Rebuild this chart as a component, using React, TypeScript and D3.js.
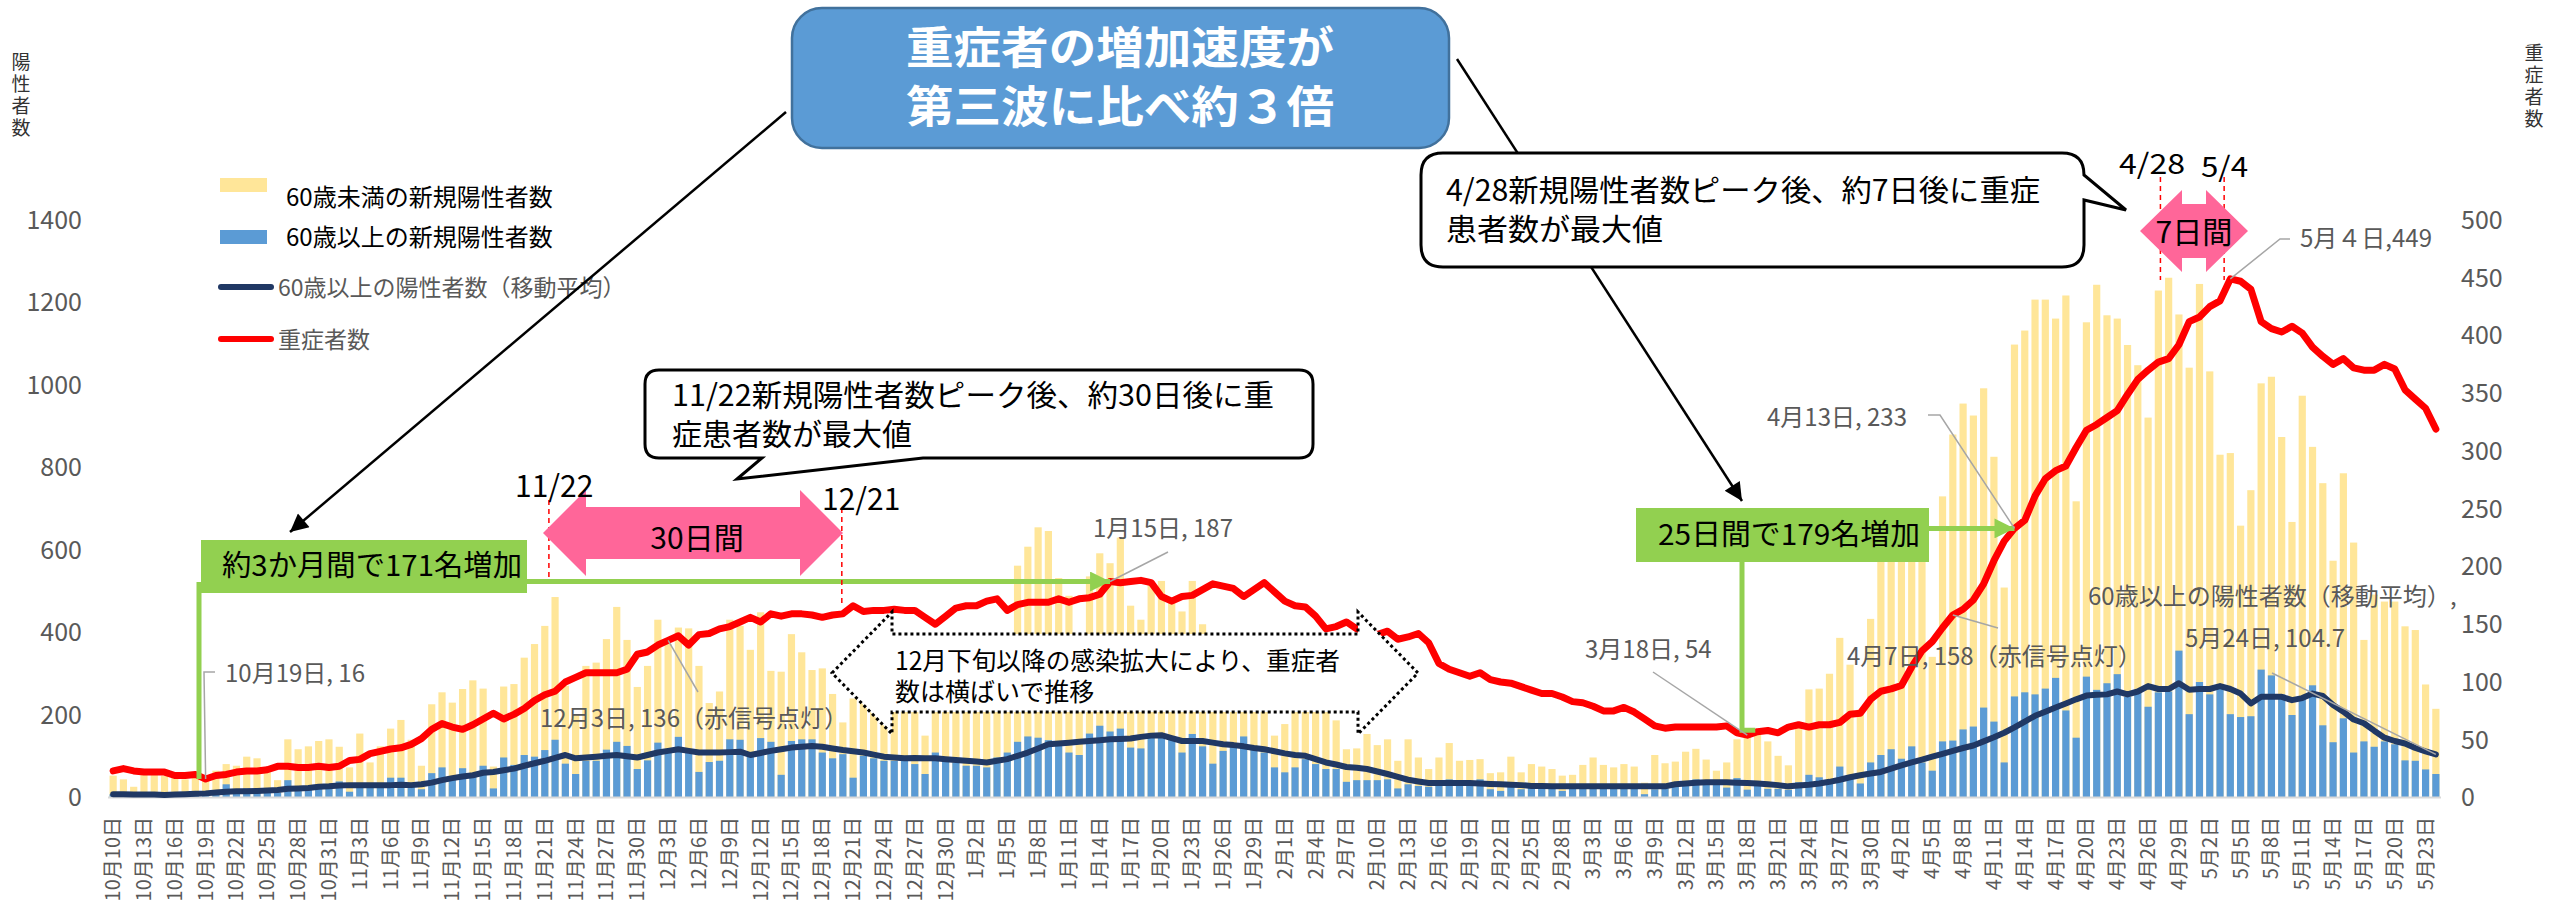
import React from 'react';
import * as d3 from 'd3';

// 2020/10/10 - 2021/5/24, one value per day
const startDate = new Date(2020, 9, 10);

// yellow bar top = all new positives (under-60 stacked on over-60)
const allAges = [
  53, 44, 26, 69, 61, 53, 48, 44, 57, 40,
  65, 81, 77, 99, 95, 61, 42, 141, 117, 124,
  137, 141, 123, 73, 155, 85, 124, 167, 188, 140,
  77, 226, 255, 230, 263, 284, 264, 75, 269, 275,
  339, 372, 416, 486, 271, 200, 319, 327, 384, 462,
  382, 268, 319, 431, 372, 412, 410, 319, 229, 257,
  431, 416, 358, 449, 307, 305, 396, 352, 309, 313,
  251, 182, 240, 300, 294, 270, 300, 299, 215, 150,
  260, 310, 254, 262, 250, 264, 258, 382, 562, 608,
  655, 646, 532, 489, 330, 536, 592, 568, 630, 465,
  431, 525, 525, 481, 451, 525, 420, 350, 320, 300,
  350, 280, 230, 150, 178, 240, 230, 240, 220, 187,
  117, 119, 154, 127, 141, 89, 141, 97, 69, 97,
  132, 89, 91, 93, 59, 61, 99, 61, 81, 75,
  69, 53, 55, 79, 97, 79, 73, 81, 75, 36,
  103, 83, 87, 111, 118, 92, 65, 85, 141, 162,
  152, 136, 101, 78, 182, 262, 264, 300, 387, 322,
  213, 433, 599, 616, 666, 666, 593, 341, 730, 880,
  955, 926, 992, 826, 509, 1098, 1132, 1207, 1207, 1161,
  1217, 718, 1152, 1243, 1169, 1161, 1097, 1048, 921, 1229,
  1260, 1171, 1042, 1245, 1033, 831, 835, 659, 745, 1004,
  1020, 874, 668, 974, 850, 762, 574, 786, 618, 382,
  492, 475, 475, 415, 406, 274, 215,
];

const over60 = [
  8, 10, 6, 12, 10, 9, 10, 10, 14, 10,
  16, 32, 19, 22, 16, 14, 12, 42, 22, 24,
  28, 30, 39, 14, 28, 26, 27, 48, 48, 28,
  20, 59, 73, 44, 71, 52, 77, 22, 97, 79,
  103, 99, 115, 140, 82, 57, 89, 89, 116, 135,
  125, 69, 90, 133, 117, 147, 109, 62, 86, 89,
  141, 140, 101, 144, 135, 55, 137, 141, 141, 109,
  95, 105, 48, 101, 95, 89, 89, 101, 81, 57,
  109, 89, 85, 77, 77, 73, 97, 109, 135, 148,
  145, 139, 133, 109, 103, 155, 174, 160, 167, 121,
  119, 150, 150, 145, 109, 154, 124, 82, 113, 125,
  148, 125, 109, 73, 61, 73, 93, 81, 69, 69,
  38, 42, 42, 42, 44, 22, 32, 28, 26, 28,
  44, 28, 28, 44, 20, 16, 36, 20, 24, 24,
  22, 16, 24, 24, 24, 24, 22, 24, 22, 8,
  20, 22, 28, 37, 44, 41, 37, 24, 47, 19,
  29, 21, 21, 19, 37, 55, 49, 41, 75, 51,
  34, 85, 103, 117, 94, 124, 85, 65, 136, 138,
  165, 172, 218, 184, 85, 245, 255, 250, 264, 290,
  211, 145, 293, 261, 277, 299, 244, 257, 220, 255,
  257, 356, 202, 280, 250, 266, 202, 195, 197, 310,
  296, 250, 200, 239, 272, 175, 134, 192, 109, 136,
  123, 136, 129, 90, 89, 68, 57,
];

const over60Avg = [
  8, 8, 7, 7, 7, 6, 7, 8, 9, 10,
  12, 14, 15, 15, 16, 17, 18, 21, 22, 23,
  26, 27, 29, 30, 30, 30, 30, 30, 31, 30,
  32, 36, 42, 47, 51, 54, 60, 62, 66, 70,
  77, 83, 89, 96, 103, 95, 97, 99, 101, 103,
  100, 97, 103, 109, 113, 117, 113, 109, 109, 109,
  110, 111, 103, 108, 113, 117, 121, 123, 125, 123,
  119, 115, 112, 109, 104, 99, 97, 95, 96, 95,
  95, 93, 91, 89, 87, 85, 89, 93, 101, 109,
  119, 129, 131, 133, 135, 137, 139, 141, 142, 143,
  147, 150, 151, 144, 137, 137, 137, 133, 129, 127,
  124, 120, 117, 112, 107, 103, 101, 93, 85, 80,
  74, 72, 69, 63, 57, 50, 43, 39, 35, 35,
  35, 35, 35, 34, 33, 32, 31, 30, 28, 28,
  27, 27, 27, 27, 27, 27, 27, 27, 27, 27,
  27, 27, 32, 34, 36, 37, 37, 37, 36, 35,
  34, 32, 30, 27, 29, 31, 34, 38, 43, 49,
  54, 58, 62, 70, 78, 85, 92, 99, 106, 113,
  120, 126, 136, 146, 157, 170, 184, 198, 208, 218,
  228, 238, 247, 249, 250, 257, 250, 257, 270, 263,
  263, 277, 261, 263, 263, 270, 263, 252, 228, 244,
  244, 244, 236, 241, 252, 246, 224, 208, 189, 180,
  162, 145, 137, 131, 120, 112, 104.7,
];

const severe = [
  23, 25, 23, 22, 22, 22, 19, 19, 20, 16,
  19, 20, 22, 23, 23, 24, 27, 27, 26, 26,
  27, 26, 27, 32, 33, 38, 40, 42, 43, 46,
  51, 59, 64, 61, 59, 63, 68, 73, 68, 72,
  77, 84, 89, 92, 100, 104, 108, 108, 108, 108,
  111, 124, 126, 132, 136, 140, 132, 141, 142, 146,
  148, 152, 156, 152, 159, 157, 159, 159, 158, 156,
  158, 159, 166, 161, 162, 162, 163, 162, 162, 156,
  150, 157, 164, 166, 166, 170, 172, 162, 167, 169,
  169, 169, 172, 169, 172, 173, 176, 187, 186, 187,
  188, 186, 174, 170, 174, 175, 180, 185, 183, 181,
  174, 180, 186, 178, 170, 166, 165, 157, 146, 148,
  152, 146, 144, 141, 144, 137, 139, 142, 134, 116,
  111, 108, 105, 108, 102, 100, 99, 96, 93, 90,
  90, 87, 83, 82, 79, 75, 75, 78, 74, 68,
  62, 60, 61, 61, 61, 61, 61, 62, 56, 54,
  57, 58, 56, 61, 63, 61, 63, 63, 65, 72,
  73, 85, 92, 94, 97, 113, 127, 135, 147, 158,
  163, 171, 185, 205, 222, 233, 240, 261, 276, 283,
  287, 303, 318, 323, 329, 335, 349, 362, 370, 377,
  380, 392, 412, 416, 425, 430, 449, 447, 440, 412,
  406, 403, 408, 402, 390, 382, 375, 380, 372, 370,
  370, 375, 371, 353, 345, 337, 319,
];

const leftTicks = [0, 200, 400, 600, 800, 1000, 1200, 1400];
const rightTicks = [0, 50, 100, 150, 200, 250, 300, 350, 400, 450, 500];

// point labels on the severe line: day index, text, text position
const severeLabels = [
  { i: 9, text: '10月19日, 16', tx: 225, ty: 682, lead: [[215, 672], [204, 672]] },
  { i: 54, text: '12月3日, 136（赤信号点灯）', tx: 540, ty: 727, lead: [[698, 692]] },
  { i: 97, text: '1月15日, 187', tx: 1093, ty: 537, lead: [[1168, 552]] },
  { i: 159, text: '3月18日, 54', tx: 1585, ty: 658, lead: [[1653, 672]] },
  { i: 185, text: '4月13日, 233', tx: 1767, ty: 426, lead: [[1928, 415], [1940, 415]] },
  { i: 179, text: '4月7日, 158（赤信号点灯）', tx: 1847, ty: 665, lead: [[1998, 628]] },
  { i: 206, text: '5月４日,449', tx: 2300, ty: 247, lead: [[2290, 239], [2280, 239]] },
];

const FONT = "'Noto Sans CJK JP', 'Noto Sans', sans-serif";
const GRAY = '#595959';

function dblArrow(x1: number, x2: number, yc: number, headH: number, shaftH: number, headL: number) {
  const pts = [
    [x1, yc], [x1 + headL, yc - headH], [x1 + headL, yc - shaftH], [x2 - headL, yc - shaftH],
    [x2 - headL, yc - headH], [x2, yc], [x2 - headL, yc + headH], [x2 - headL, yc + shaftH],
    [x1 + headL, yc + shaftH], [x1 + headL, yc + headH],
  ];
  return 'M' + pts.map(p => p.join(',')).join('L') + 'Z';
}

export default function App() {
  const n = allAges.length;
  const dates = d3.timeDay.range(startDate, d3.timeDay.offset(startDate, n));
  const x = d3.scaleBand<number>().domain(d3.range(n)).range([108, 2441]).paddingInner(0.3).paddingOuter(0.15);
  const bw = x.bandwidth();
  const cx = (i: number) => (x(i) ?? 0) + bw / 2;
  const fx = d3.scaleLinear().domain([0, n - 1]).range([cx(0), cx(n - 1)]);
  const yL = d3.scaleLinear().domain([0, 1400]).range([797.5, 220]);
  const yR = d3.scaleLinear().domain([0, 500]).range([797.5, 220]);

  const avgPath = d3.line<number>().x((_, i) => cx(i)).y(d => yL(d))(over60Avg) || '';
  const sevPath = d3.line<number>().x((_, i) => cx(i)).y(d => yR(d))(severe) || '';

  const y187 = yR(severe[97]);
  const y233 = yR(severe[185]);

  return (
    <svg width={2552} height={912} style={{ position: 'absolute', left: 0, top: 0, background: '#fff' }}
      fontFamily={FONT}>
      <defs>
        <marker id="arrBlack" viewBox="0 0 10 10" refX="10" refY="5" markerWidth="22" markerHeight="18"
          markerUnits="userSpaceOnUse" orient="auto">
          <path d="M0,0 L10,5 L0,10 z" fill="#000" />
        </marker>
        <marker id="arrGreen" viewBox="0 0 10 10" refX="10" refY="5" markerWidth="22" markerHeight="20"
          markerUnits="userSpaceOnUse" orient="auto">
          <path d="M0,0 L10,5 L0,10 z" fill="#92D050" />
        </marker>
      </defs>

      {/* axis titles */}
      {['陽', '性', '者', '数'].map((c, k) => (
        <text key={'lt' + k} x={21} y={69 + k * 22} fontSize={19} textAnchor="middle" fill="#333">{c}</text>
      ))}
      {['重', '症', '者', '数'].map((c, k) => (
        <text key={'rt' + k} x={2534} y={60 + k * 22} fontSize={19} textAnchor="middle" fill="#333">{c}</text>
      ))}

      {/* tick labels */}
      {leftTicks.map(t => (
        <text key={'l' + t} x={82} y={yL(t)} dy="0.35em" textAnchor="end" fontSize={25} fill={GRAY}>{t}</text>
      ))}
      {rightTicks.map(t => (
        <text key={'r' + t} x={2461} y={yR(t)} dy="0.35em" textAnchor="start" fontSize={25} fill={GRAY}>{t}</text>
      ))}

      {/* bars */}
      {allAges.map((v, i) => (
        <rect key={'y' + i} x={x(i)} y={yL(v)} width={bw} height={yL(0) - yL(v)} fill="#FFE699" />
      ))}
      {over60.map((v, i) => (
        <rect key={'b' + i} x={x(i)} y={yL(v)} width={bw} height={yL(0) - yL(v)} fill="#5B9BD5" />
      ))}
      <line x1={108} x2={2441} y1={yL(0)} y2={yL(0)} stroke="#D9D9D9" strokeWidth={2} />

      {/* x labels */}
      {dates.map((d, i) => i % 3 === 0 ? (
        <text key={'x' + i} transform={`translate(${cx(i)},817) rotate(-90)`} dy="0.35em" textAnchor="end"
          fontSize={20} fill={GRAY}>{`${d.getMonth() + 1}月${d.getDate()}日`}</text>
      ) : null)}

      {/* lines */}
      <path d={avgPath} fill="none" stroke="#203864" strokeWidth={6} strokeLinejoin="round" strokeLinecap="round" />
      <path d={sevPath} fill="none" stroke="#FF0000" strokeWidth={7} strokeLinejoin="round" strokeLinecap="round" />

      {/* legend */}
      <rect x={220} y={178} width={47} height={14} fill="#FFE699" />
      <text x={286} y={206} fontSize={24} fill="#000">60歳未満の新規陽性者数</text>
      <rect x={220} y={230} width={47} height={14} fill="#5B9BD5" />
      <text x={286} y={246} fontSize={24} fill="#000">60歳以上の新規陽性者数</text>
      <line x1={221} x2={271} y1={287} y2={287} stroke="#203864" strokeWidth={6} strokeLinecap="round" />
      <text x={278} y={296} fontSize={23} fill={GRAY}>60歳以上の陽性者数（移動平均）</text>
      <line x1={221} x2={271} y1={339} y2={339} stroke="#FF0000" strokeWidth={6} strokeLinecap="round" />
      <text x={278} y={348} fontSize={23} fill={GRAY}>重症者数</text>

      {/* dotted double arrow with note */}
      <path d={dblArrow(832, 1418, 673, 61, 39, 60)} fill="#fff" stroke="#000" strokeWidth={3}
        strokeDasharray="3 3" />
      <text x={895} y={670} fontSize={25} fill="#000" textLength={445} lengthAdjust="spacingAndGlyphs">12月下旬以降の感染拡大により、重症者</text>
      <text x={895} y={701} fontSize={25} fill="#000">数は横ばいで推移</text>

      {/* green annotations */}
      <path d={`M199,582 V${yR(severe[9])}`} stroke="#92D050" strokeWidth={5} fill="none" />
      <line x1={527} x2={cx(97)} y1={y187} y2={y187} stroke="#92D050" strokeWidth={5} markerEnd="url(#arrGreen)" />
      <rect x={201} y={540} width={326} height={53} fill="#92D050" />
      <text x={222} y={576} fontSize={29} fill="#000" textLength={300} lengthAdjust="spacingAndGlyphs">約3か月間で171名増加</text>

      <path d={`M1742,562 V${yR(severe[159]) - 5} H${cx(159) + 8}`} stroke="#92D050" strokeWidth={5} fill="none" />
      <line x1={1929} x2={cx(185)} y1={y233} y2={y233} stroke="#92D050" strokeWidth={5} markerEnd="url(#arrGreen)" />
      <rect x={1636} y={508} width={293} height={54} fill="#92D050" />
      <text x={1658} y={545} fontSize={29} fill="#000" textLength={262} lengthAdjust="spacingAndGlyphs">25日間で179名増加</text>

      {/* 30 days arrow */}
      <line x1={fx(42.4)} x2={fx(42.4)} y1={500} y2={580} stroke="#FF0000" strokeWidth={1.5} strokeDasharray="5 4" />
      <line x1={fx(70.9)} x2={fx(70.9)} y1={508} y2={603} stroke="#FF0000" strokeWidth={1.5} strokeDasharray="5 4" />
      <path d={dblArrow(543, 843, 533, 43, 26, 43)} fill="#FF6699" />
      <text x={697} y={549} fontSize={30} textAnchor="middle" fill="#000">30日間</text>
      <text x={515} y={497} fontSize={30} fill="#000">11/22</text>
      <text x={822} y={510} fontSize={30} fill="#000">12/21</text>

      {/* 7 days arrow */}
      <line x1={fx(199.2)} x2={fx(199.2)} y1={177} y2={280} stroke="#FF0000" strokeWidth={1.5} strokeDasharray="5 4" />
      <line x1={fx(205.4)} x2={fx(205.4)} y1={177} y2={280} stroke="#FF0000" strokeWidth={1.5} strokeDasharray="5 4" />
      <path d={dblArrow(2140, 2248, 231, 41, 27, 42)} fill="#FF6699" />
      <text x={2194} y={243} fontSize={30} textAnchor="middle" fill="#000" textLength={77} lengthAdjust="spacingAndGlyphs">7日間</text>
      <text x={2119} y={174} fontSize={28} fill="#000" textLength={66} lengthAdjust="spacingAndGlyphs">4/28</text>
      <text x={2201} y={177} fontSize={28} fill="#000" textLength={47} lengthAdjust="spacingAndGlyphs">5/4</text>

      {/* data labels */}
      {severeLabels.map((s, k) => {
        const pts = [...s.lead, [cx(s.i), yR(severe[s.i])]];
        return (
          <g key={'sl' + k}>
            <path d={'M' + pts.map(p => p.join(',')).join('L')} fill="none" stroke="#A6A6A6" strokeWidth={1.5} />
            <text x={s.tx} y={s.ty} fontSize={24} fill={GRAY}>{s.text}</text>
          </g>
        );
      })}
      <path d={`M2272,673 L${cx(n - 1)},${yL(over60Avg[n - 1])}`} fill="none" stroke="#A6A6A6" strokeWidth={1.5} />
      <text x={2088} y={605} fontSize={24} fill={GRAY}>60歳以上の陽性者数（移動平均）</text>
      <text x={2450} y={605} fontSize={24} fill={GRAY}>,</text>
      <text x={2185} y={647} fontSize={24} fill={GRAY}>5月24日, 104.7</text>

      {/* pointer lines from title box */}
      <line x1={786} y1={112} x2={290} y2={532} stroke="#000" strokeWidth={2.5} markerEnd="url(#arrBlack)" />
      <line x1={1457} y1={59} x2={1742} y2={501} stroke="#000" strokeWidth={2.5} markerEnd="url(#arrBlack)" />

      {/* callouts */}
      <path d="M659,370 H1299 Q1313,370 1313,384 V444 Q1313,458 1299,458 H923 L737,479 L762,458 H659 Q645,458 645,444 V384 Q645,370 659,370 Z"
        fill="#fff" stroke="#000" strokeWidth={3} />
      <text x={672} y={406} fontSize={30} fill="#000" textLength={602} lengthAdjust="spacingAndGlyphs">11/22新規陽性者数ピーク後、約30日後に重</text>
      <text x={672} y={445} fontSize={30} fill="#000">症患者数が最大値</text>

      <path d="M1443,153 H2062 Q2084,153 2084,175 L2126,210 L2084,200 V245 Q2084,267 2062,267 H1443 Q1421,267 1421,245 V175 Q1421,153 1443,153 Z"
        fill="#fff" stroke="#000" strokeWidth={3} />
      <text x={1446} y={201} fontSize={30} fill="#000" textLength={594} lengthAdjust="spacingAndGlyphs">4/28新規陽性者数ピーク後、約7日後に重症</text>
      <text x={1446} y={240} fontSize={30} fill="#000" textLength={217} lengthAdjust="spacingAndGlyphs">患者数が最大値</text>

      {/* title box */}
      <rect x={792} y={8} width={657} height={140} rx={30} fill="#5B9BD5" stroke="#41719C" strokeWidth={2.5} />
      <text x={1120} y={64} fontSize={44} fontWeight={700} textAnchor="middle" fill="#fff"
        textLength={428} lengthAdjust="spacingAndGlyphs">重症者の増加速度が</text>
      <text x={1120} y={123} fontSize={44} fontWeight={700} textAnchor="middle" fill="#fff"
        textLength={428} lengthAdjust="spacingAndGlyphs">第三波に比べ約３倍</text>
    </svg>
  );
}
